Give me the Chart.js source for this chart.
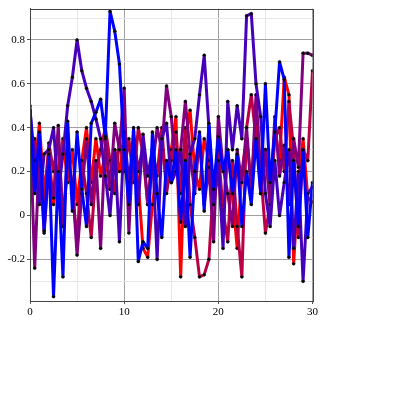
<!DOCTYPE html>
<html>
<head>
<meta charset="utf-8">
<script src="https://cdn.jsdelivr.net/npm/chart.js@4/dist/chart.umd.min.js"></script>
<style>
    html, body { margin: 0; padding: 0; background: #fff; }
    #wrap { position: absolute; left: 0; top: 0; width: 320px; height: 320px; }
</style>
</head>
<body>
<div id="wrap"><canvas id="chart"></canvas></div>
<script>
// Valores X comunes (0 a 30 cada 0.5)
const xValues = [];
for (let i = 0; i <= 60; i++) xValues.push(i / 2);

// Series
const blueValues = [0.50, 0.10, 0.38, -0.07, 0.28, -0.37, 0.20, -0.28, 0.43, 0.02,
    0.38, 0.12, -0.05, 0.42, 0.47, 0.53, 0.36, 0.93, 0.84, 0.69,
    0.30, 0.05, 0.40, -0.21, -0.12, -0.15, 0.38, 0.10, -0.10, 0.25,
    0.15, 0.30, -0.03, 0.25, -0.19, 0.20, 0.38, 0.02, 0.42, 0.12,
    0.36, 0.20, 0.30, 0.10, 0.28, -0.05, 0.20, 0.05, 0.35, 0.10,
    0.60, 0.15, 0.38, 0.70, 0.62, -0.19, 0.25, -0.05, 0.30, -0.10, 0.15];

const indigoValues = [0.48, 0.25, 0.05, 0.28, 0.30, 0.40, 0.10, 0.28, 0.50, 0.63,
    0.80, 0.66, 0.58, 0.52, 0.44, 0.35, 0.18, 0.00, 0.30, -0.12,
    0.38, 0.15, 0.35, 0.05, 0.37, 0.18, 0.30, -0.20, 0.35, 0.42,
    0.15, 0.20, 0.30, -0.05, 0.28, 0.35, 0.55, 0.73, 0.40, 0.05,
    0.25, -0.15, 0.52, 0.30, 0.50, 0.35, 0.91, 0.92, 0.60, 0.45,
    0.10, -0.05, 0.25, 0.00, 0.15, 0.30, -0.15, 0.20, -0.30, 0.10, 0.13];

const purpleValues = [0.42, -0.24, 0.30, -0.08, 0.22, 0.08, 0.41, -0.05, 0.28, 0.15,
    -0.18, 0.10, 0.35, 0.05, 0.25, -0.15, 0.35, 0.12, 0.42, 0.30,
    0.58, -0.08, 0.38, 0.20, 0.32, 0.05, 0.22, 0.40, 0.30, 0.59,
    0.45, 0.20, 0.30, 0.52, 0.28, 0.10, 0.36, 0.05, 0.22, -0.12,
    0.45, 0.22, 0.10, -0.05, 0.30, 0.15, 0.40, 0.10, 0.55, 0.20,
    0.30, 0.05, 0.45, 0.18, 0.32, 0.05, 0.35, 0.22, 0.74, 0.74, 0.73];

const crimsonValues = [0.30, 0.35, 0.15, 0.05, 0.33, 0.20, 0.36, -0.02, 0.22, 0.12,
    -0.12, 0.25, 0.10, -0.10, 0.20, 0.30, 0.40, 0.25, 0.10, 0.35,
    0.20, 0.35, 0.15, 0.40, 0.28, 0.05, 0.30, 0.18, 0.40, 0.10,
    0.25, 0.38, 0.10, 0.40, 0.05, -0.10, -0.28, -0.27, -0.20, 0.15,
    0.30, 0.02, -0.12, 0.25, -0.05, -0.28, 0.40, 0.55, 0.35, 0.20,
    -0.08, 0.05, 0.35, 0.40, 0.20, 0.52, 0.30, -0.10, 0.30, 0.25, 0.66];

const redValues = [0.45, 0.20, 0.42, 0.10, 0.28, 0.05, 0.20, 0.35, 0.15, 0.30,
    0.05, 0.25, 0.40, 0.15, 0.35, 0.18, 0.28, 0.12, 0.30, 0.20,
    0.35, 0.10, 0.30, 0.15, -0.15, -0.19, 0.05, 0.20, 0.32, 0.15,
    0.30, 0.45, -0.28, 0.35, 0.48, 0.20, 0.12, 0.35, 0.25, 0.05,
    0.20, -0.08, 0.30, 0.10, -0.15, 0.20, 0.35, 0.15, 0.42, 0.10,
    0.30, 0.05, 0.40, 0.25, 0.63, 0.55, -0.22, 0.15, 0.35, 0.08, 0.06];

// Marcas de los ejes
const xTicks = [0, 5, 10, 15, 20, 25, 30];
const xLabels = [0, 10, 20, 30];
const yTicks = [-0.3, -0.2, -0.1, 0, 0.1, 0.2, 0.3, 0.4, 0.5, 0.6, 0.7, 0.8, 0.9];
const yLabels = [-0.2, 0, 0.2, 0.4, 0.6, 0.8];

function toPoints(values) {
    return values.map((v, i) => ({ x: xValues[i], y: v }));
}

function isLabel(list, v) {
    return list.some(l => Math.abs(l - v) < 1e-6);
}

// Orden: la primera serie se dibuja encima
const series = [
    { values: blueValues, color: "rgb(0, 0, 255)" },
    { values: indigoValues, color: "rgb(70, 0, 185)" },
    { values: purpleValues, color: "rgb(128, 0, 128)" },
    { values: crimsonValues, color: "rgb(185, 0, 70)" },
    { values: redValues, color: "rgb(255, 0, 0)" }
];

// Marco alrededor del área de la gráfica
const framePlugin = {
    id: "frame",
    afterDraw(chart) {
        const { ctx, chartArea: a } = chart;
        ctx.save();
        ctx.strokeStyle = "#444";
        ctx.lineWidth = 1;
        ctx.strokeRect(Math.round(a.left) + 0.5, Math.round(a.top) + 0.5,
            Math.round(a.right - a.left), Math.round(a.bottom - a.top));
        ctx.restore();
    }
};

const tickFont = { family: "'Liberation Serif', serif", size: 11 };

new Chart(document.getElementById("chart"), {
    type: "line",
    data: {
        datasets: series.map(s => ({
            data: toPoints(s.values),
            borderColor: s.color,
            borderWidth: 3,
            borderJoinStyle: "round",
            tension: 0,
            pointRadius: 1.5,
            pointBackgroundColor: "#000",
            pointBorderColor: "#222",
            pointBorderWidth: 0.5
        }))
    },
    options: {
        responsive: true,
        maintainAspectRatio: false,
        animation: false,
        layout: { padding: { top: 8, right: 7, left: 0, bottom: 0 } },
        plugins: {
            legend: { display: false },
            tooltip: { enabled: false }
        },
        scales: {
            x: {
                type: "linear",
                min: 0,
                max: 30,
                afterBuildTicks: scale => { scale.ticks = xTicks.map(v => ({ value: v })); },
                afterFit: scale => { scale.height = 19; },
                grid: {
                    color: ctx => (ctx.tick && ctx.tick.value % 10 === 0) ? "#a0a0a0" : "#e6e6e6",
                    tickLength: 3,
                    tickColor: ctx => (ctx.tick && ctx.tick.value % 10 === 0) ? "#555" : "rgba(0,0,0,0)"
                },
                border: { color: "#444" },
                ticks: {
                    color: "#000",
                    font: tickFont,
                    padding: 2,
                    maxRotation: 0,
                    autoSkip: false,
                    callback: v => isLabel(xLabels, v) ? String(v) : ""
                }
            },
            y: {
                min: -0.39,
                max: 0.943,
                afterBuildTicks: scale => { scale.ticks = yTicks.map(v => ({ value: v })); },
                afterFit: scale => { scale.width = 30; },
                grid: {
                    color: ctx => (ctx.tick && isLabel(yLabels, ctx.tick.value)) ? "#a0a0a0" : "#e6e6e6",
                    tickLength: 3,
                    tickColor: ctx => (ctx.tick && isLabel(yLabels, ctx.tick.value)) ? "#555" : "rgba(0,0,0,0)"
                },
                border: { color: "#444" },
                ticks: {
                    color: "#000",
                    font: tickFont,
                    padding: 2,
                    autoSkip: false,
                    callback: v => isLabel(yLabels, v) ? String(Math.round(v * 10) / 10) : ""
                }
            }
        }
    },
    plugins: [framePlugin]
});
</script>
</body>
</html>
